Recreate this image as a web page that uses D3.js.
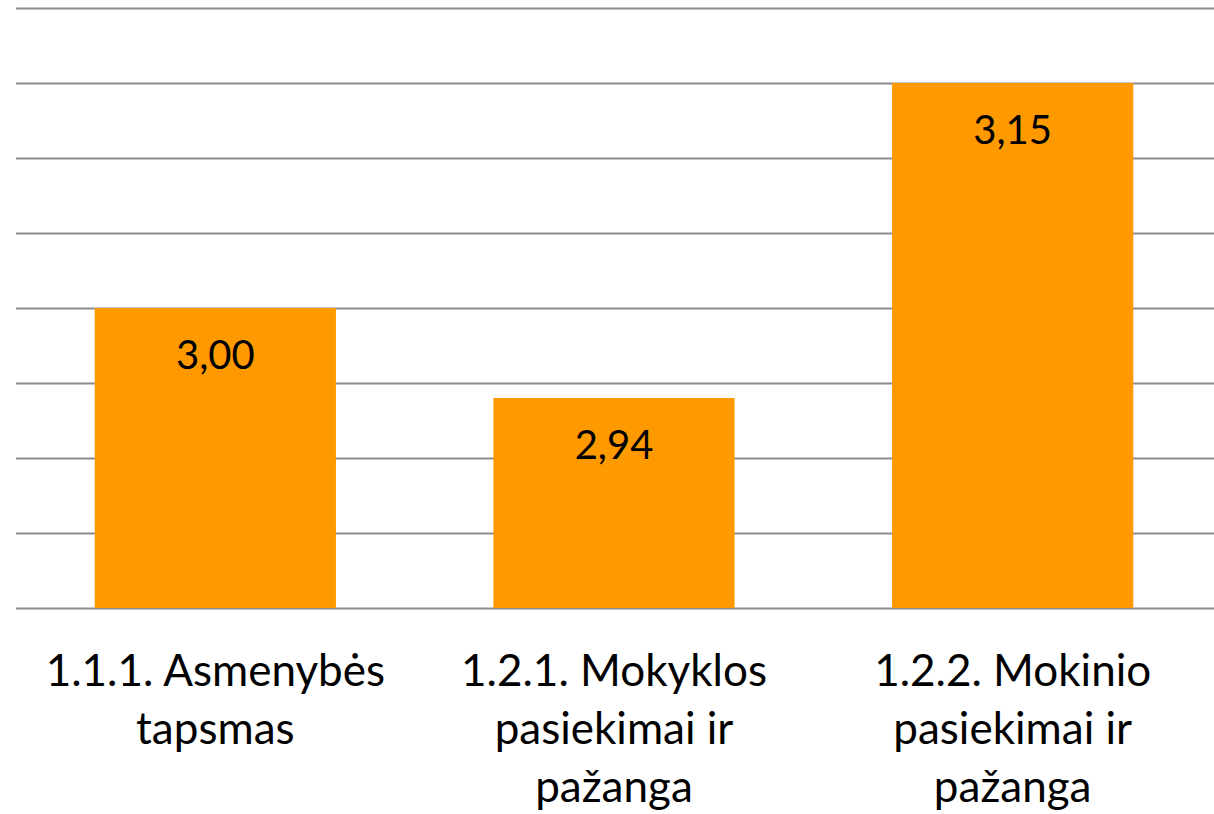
<!DOCTYPE html>
<html>
<head>
<meta charset="utf-8">
<script src="https://cdn.jsdelivr.net/npm/d3@7"></script>
<style>
  html, body { margin: 0; padding: 0; background: #ffffff; }
  svg { display: block; }
</style>
</head>
<body>
<svg id="chart" width="1214" height="814"></svg>
<script>
// ---- Data ----
const categories = ["1.1.1. Asmenybės tapsmas", "1.2.1. Mokyklos pasiekimai ir pažanga", "1.2.2. Mokinio pasiekimai ir pažanga"];
const categoryLines = [
  ["1.1.1. Asmenybės", "tapsmas"],
  ["1.2.1. Mokyklos", "pasiekimai ir", "pažanga"],
  ["1.2.2. Mokinio", "pasiekimai ir", "pažanga"]
];
const values = [3.00, 2.94, 3.15];
const valueLabels = ["3,00", "2,94", "3,15"];
const yTicks = [2.80, 2.85, 2.90, 2.95, 3.00, 3.05, 3.10, 3.15, 3.20];

// ---- Layout ----
(function () {
const W = 1214, H = 814;
const mLeft = 16, mRight = 1212, mTop = 8, mBottom = 608;
const svg = d3.select("#chart");
const font = "Lato, 'Open Sans', sans-serif";

const x = d3.scaleBand()
  .domain(categories)
  .range([mLeft, mRight])
  .paddingInner(0.395)
  .paddingOuter(0.1975);

const y = d3.scaleLinear()
  .domain([2.80, 3.20])
  .range([mBottom, mTop]);

// gridlines
const yAxis = d3.axisLeft(y)
  .tickValues(yTicks)
  .tickSize(-(W - mLeft))
  .tickFormat("");
const g = svg.append("g")
  .attr("transform", `translate(${mLeft},0)`)
  .call(yAxis);
g.select(".domain").remove();
g.selectAll(".tick line")
  .attr("stroke", "#8c8c8c")
  .attr("stroke-width", 2);

// bars
svg.append("g").selectAll("rect")
  .data(values)
  .join("rect")
  .attr("x", (d, i) => x(categories[i]))
  .attr("width", x.bandwidth())
  .attr("y", d => y(d))
  .attr("height", d => y(2.80) - y(d))
  .attr("fill", "#ff9900");

// value labels
svg.append("g").selectAll("text")
  .data(values)
  .join("text")
  .attr("x", (d, i) => x(categories[i]) + x.bandwidth() / 2)
  .attr("y", d => y(d) + 61)
  .attr("text-anchor", "middle")
  .attr("font-family", font)
  .attr("font-size", 40)
  .attr("fill", "#000")
  .text((d, i) => valueLabels[i]);

// category labels
const cat = svg.append("g").selectAll("text")
  .data(categories)
  .join("text")
  .attr("text-anchor", "middle")
  .attr("font-family", font)
  .attr("font-size", 44)
  .attr("fill", "#000")
  .attr("x", d => x(d) + x.bandwidth() / 2)
  .attr("y", 686);
cat.each(function(d, i) {
  const t = d3.select(this);
  categoryLines[i].forEach((line, j) => {
    t.append("tspan")
      .attr("x", x(d) + x.bandwidth() / 2)
      .attr("y", 686 + j * 58)
      .text(line);
  });
});
})();
</script>
</body>
</html>
